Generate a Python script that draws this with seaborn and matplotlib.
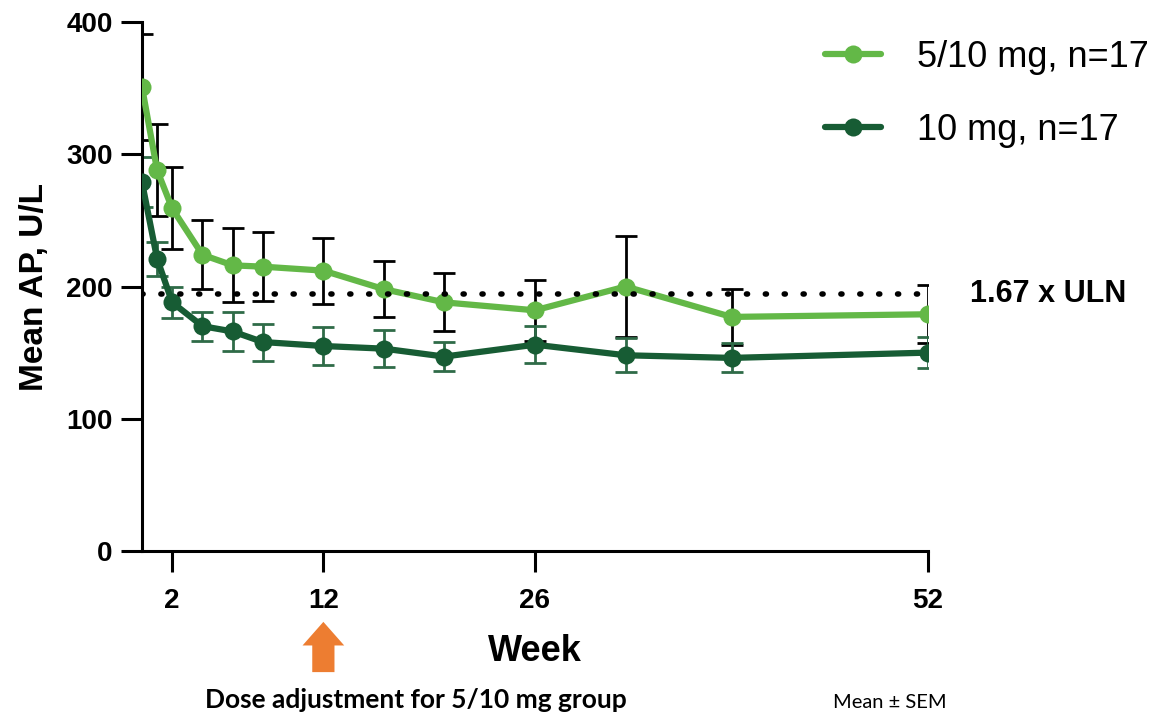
import numpy as np
import pandas as pd
import seaborn as sns
import matplotlib.pyplot as plt

# data
weeks = [0, 1, 2, 4, 6, 8, 12, 16, 20, 26, 32, 39, 52]
ap_5_10 = [351, 288, 259, 224, 216, 215, 212, 198, 188, 182, 200, 177, 179]
sem_5_10 = [40, 35, 31, 26, 28, 26, 25, 21, 22, 23, 38, 21, 22]
ap_10 = [279, 221, 188, 170, 166, 158, 155, 153, 147, 156, 148, 146, 150]
sem_10 = [19, 13, 12, 11, 15, 14, 14, 14, 11, 14, 13, 11, 12]
uln_167 = 194
series_names = ["5/10 mg, n=17", "10 mg, n=17"]
x_ticks = [2, 12, 26, 52]
y_ticks = [0, 100, 200, 300, 400]

light = "#63b847"
dark = "#175c34"
dark_err = "#2f6b48"

df = pd.DataFrame({
    "Week": weeks * 2,
    "AP": ap_5_10 + ap_10,
    "Group": [series_names[0]] * len(weeks) + [series_names[1]] * len(weeks),
})

sns.set_style("white")
plt.rcParams['font.family'] = ['Liberation Sans', 'DejaVu Sans']
plt.rcParams['text.color'] = 'black'
plt.rcParams['axes.labelcolor'] = 'black'
plt.rcParams['xtick.color'] = 'black'
plt.rcParams['ytick.color'] = 'black'

fig = plt.figure(figsize=(11.58, 7.15), dpi=100)
ax = fig.add_axes([0.1226, 0.2294, 0.8014 - 0.1226, 0.9692 - 0.2294])

# error bars first (behind the markers)
ax.errorbar(weeks, ap_5_10, yerr=sem_5_10, fmt="none", ecolor="black",
            elinewidth=2, capsize=8, capthick=2, zorder=2)
ax.errorbar(weeks, ap_10, yerr=sem_10, fmt="none", ecolor=dark_err,
            elinewidth=2, capsize=8, capthick=2, zorder=2)

sns.lineplot(data=df, x="Week", y="AP", hue="Group",
             palette=[light, dark], marker="o", markersize=13,
             markeredgewidth=0, linewidth=4.5, ax=ax, zorder=3)

# 1.67 x ULN reference line
ax.axhline(uln_167, color="black", linestyle=(0, (0.2, 3.2)), linewidth=4,
           dash_capstyle="round", zorder=4)
ax.text(54.8, uln_167, "1.67 x ULN", fontsize=22, fontweight="bold",
        va="center", ha="left", clip_on=False)

ax.set_xlim(0, 52)
ax.set_ylim(0, 400)
ax.set_xticks(x_ticks)
ax.set_yticks(y_ticks)
ax.tick_params(axis="both", direction="out", length=15, width=2.2,
               labelsize=20, pad=6, color="black", labelcolor="black",
               bottom=True, left=True)
ax.tick_params(axis="x", pad=12)
for lbl in ax.get_xticklabels() + ax.get_yticklabels():
    lbl.set_fontweight("bold")
ax.set_xlabel("Week", fontsize=26, fontweight="bold", labelpad=14)
ax.set_ylabel("Mean AP, U/L", fontsize=24, fontweight="bold", labelpad=12)
for side in ["top", "right"]:
    ax.spines[side].set_visible(False)
for side in ["left", "bottom"]:
    ax.spines[side].set_linewidth(2.2)
    ax.spines[side].set_color("black")

# legend
handles, labels = ax.get_legend_handles_labels()
ax.legend(handles, labels, loc="upper left", bbox_to_anchor=(0.684, 0.99),
          bbox_transform=fig.transFigure, frameon=False, fontsize=26,
          handlelength=1.55, handletextpad=1.0, labelspacing=1.05)

# dose adjustment arrow at week 12
ax.annotate("", xy=(12, -0.134), xytext=(12, -0.229),
            xycoords=("data", "axes fraction"), textcoords=("data", "axes fraction"),
            arrowprops=dict(width=16, headwidth=30, headlength=17,
                            color="#ed7d31", lw=0, shrink=0))
fig.text(0.359, 0.004, "Dose adjustment for 5/10 mg group", fontsize=19,
         fontweight="bold", family=["Lato", "DejaVu Sans"], ha="center", va="bottom")
fig.text(0.768, 0.006, "Mean \u00b1 SEM", fontsize=14.5,
         family=["Lato", "DejaVu Sans"], ha="center", va="bottom")

fig.savefig("out.png", dpi=100)
